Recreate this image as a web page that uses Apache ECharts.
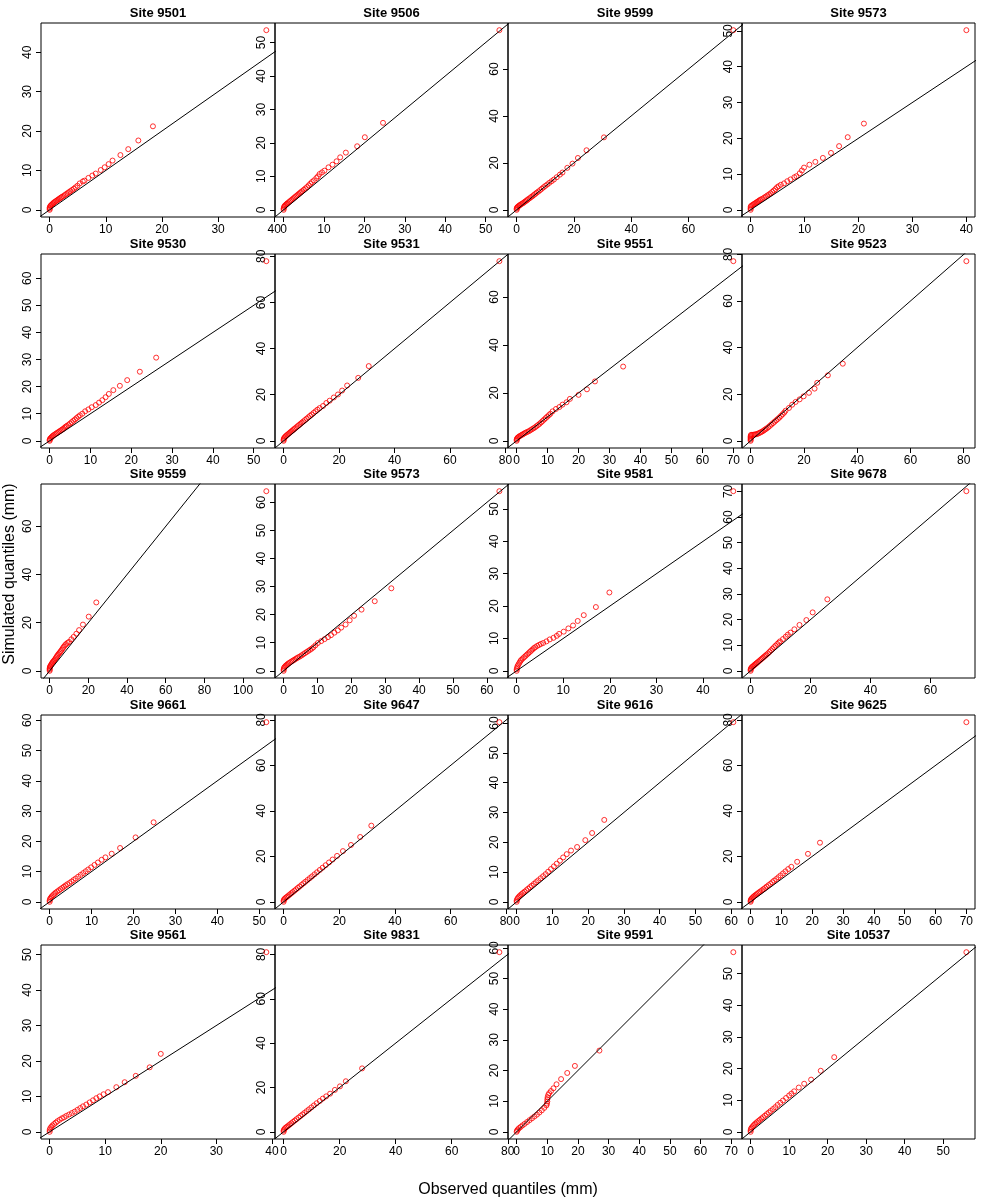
<!DOCTYPE html>
<html>
<head>
<meta charset="utf-8">
<script src="https://cdn.jsdelivr.net/npm/echarts@6/dist/echarts.min.js"></script>
<style>
  html, body { margin: 0; padding: 0; background: #fff; }
  #mychart { width: 981px; height: 1200px; }
</style>
</head>
<body>
<div id="mychart"></div>
<script>
// panel titles, row by row
const siteNames = ["9501", "9506", "9599", "9573", "9530", "9531", "9551", "9523", "9559", "9573",
  "9581", "9678", "9661", "9647", "9616", "9625", "9561", "9831", "9591", "10537"];

// [observed, simulated] quantile pairs (mm), one list per site
const site9501 = [[0,0],[0,0.3],[0,0.6],[0.1,0.9],[0.2,1.1],[0.35,1.3],[0.5,1.5],[0.65,1.7],[0.8,1.9],[1.0,2.1],[1.2,2.3],[1.4,2.5],[1.6,2.7],[1.8,2.9],[2.0,3.1],[2.2,3.3],[2.45,3.5],[2.7,3.75],[2.95,4.0],[3.2,4.25],[3.45,4.5],[3.7,4.75],[4.0,5.05],[4.3,5.35],[4.6,5.7],[4.95,6.1],[5.35,6.7],[5.9,7.2],[6.2,7.4],[6.9,8.1],[7.6,8.7],[8.2,9.2],[9.1,10.1],[9.8,10.8],[10.5,11.6],[11.2,12.5],[12.6,13.9],[14.0,15.4],[15.8,17.6],[18.4,21.2],[38.6,45.6]];
const site9506 = [[0,0],[0,0.4],[0.1,0.8],[0.2,1.1],[0.4,1.3],[0.6,1.6],[0.8,1.8],[1.0,2.0],[1.3,2.3],[1.6,2.6],[1.9,2.9],[2.2,3.2],[2.5,3.5],[2.8,3.8],[3.1,4.1],[3.4,4.4],[3.7,4.7],[4.0,5.0],[4.3,5.3],[4.6,5.6],[5.0,6.0],[5.4,6.4],[5.8,6.8],[6.2,7.3],[6.6,7.8],[7.0,8.3],[7.5,8.8],[8.1,9.5],[8.5,10.0],[8.9,10.7],[9.5,11.2],[10.1,11.7],[11.1,12.7],[12.1,13.5],[13.1,14.5],[14.0,15.7],[15.4,17.1],[18.2,19.0],[20.1,21.7],[24.6,26.0],[53.4,53.7]];
const site9599 = [[0,0],[0,0.5],[0.1,0.9],[0.3,1.2],[0.6,1.5],[0.9,1.8],[1.2,2.1],[1.6,2.4],[2.0,2.7],[2.4,3.0],[2.8,3.4],[3.2,3.7],[3.6,4.1],[4.0,4.5],[4.5,4.9],[5.0,5.4],[5.5,5.8],[6.0,6.3],[6.5,6.8],[7.0,7.3],[7.6,7.8],[8.2,8.4],[8.8,9.0],[9.4,9.6],[10.0,10.2],[10.7,10.8],[11.4,11.5],[12.2,12.2],[13.0,12.9],[14.0,13.9],[15.1,15.0],[16.0,15.9],[17.7,17.9],[19.5,19.7],[21.4,22.1],[24.4,25.4],[30.5,30.9],[75.7,76.6]];
const site9573a = [[0,0],[0,0.4],[0,0.8],[0.1,1.1],[0.3,1.3],[0.5,1.5],[0.7,1.7],[0.9,1.9],[1.1,2.1],[1.3,2.3],[1.5,2.5],[1.7,2.7],[1.9,2.9],[2.2,3.1],[2.5,3.4],[2.8,3.7],[3.1,4.0],[3.4,4.3],[3.7,4.6],[4.0,5.0],[4.3,5.4],[4.6,5.8],[4.9,6.3],[5.2,6.6],[5.6,7.0],[6.2,7.4],[6.8,8.0],[7.4,8.5],[8.1,9.1],[8.5,9.4],[9.1,10.2],[9.5,11.0],[9.9,11.8],[10.9,12.6],[12.0,13.4],[13.4,14.5],[14.9,15.9],[16.4,17.8],[18.0,20.3],[21.0,24.1],[40.0,50.2]];
const site9530 = [[0,0],[0,0.4],[0.1,0.8],[0.3,1.1],[0.5,1.4],[0.7,1.7],[0.9,2.0],[1.2,2.3],[1.5,2.6],[1.8,2.9],[2.1,3.2],[2.4,3.5],[2.7,3.8],[3.0,4.1],[3.3,4.4],[3.6,4.8],[3.9,5.2],[4.2,5.5],[4.6,5.9],[5.0,6.4],[5.4,6.9],[5.8,7.4],[6.2,7.9],[6.6,8.4],[7.0,8.9],[7.4,9.4],[8.0,10.0],[8.7,10.9],[9.5,11.6],[10.3,12.4],[11.3,13.2],[12.1,14.1],[12.9,15.0],[13.7,16.1],[14.5,17.3],[15.6,18.7],[17.2,20.3],[19.0,22.4],[22.1,25.5],[26.1,30.7],[53.1,66.3]];
const site9531 = [[0,0],[0,0.5],[0.1,1.0],[0.3,1.4],[0.6,1.8],[0.9,2.2],[1.3,2.6],[1.7,3.0],[2.1,3.4],[2.5,3.8],[2.9,4.2],[3.3,4.6],[3.7,5.0],[4.1,5.4],[4.6,5.9],[5.1,6.4],[5.6,6.9],[6.1,7.4],[6.6,7.9],[7.1,8.4],[7.7,9.0],[8.3,9.6],[8.9,10.2],[9.5,10.8],[10.1,11.4],[10.8,12.1],[11.5,12.8],[12.2,13.5],[13.0,14.2],[14.2,15.1],[15.4,16.4],[16.6,17.4],[18.1,18.8],[19.6,20.1],[21.1,21.8],[22.9,24.0],[26.9,27.3],[30.7,32.4],[77.8,77.9]];
const site9551 = [[0,0],[0,0.5],[0.1,0.9],[0.3,1.3],[0.6,1.6],[0.9,1.9],[1.3,2.2],[1.7,2.5],[2.1,2.8],[2.5,3.1],[2.9,3.4],[3.4,3.7],[3.9,4.0],[4.4,4.4],[4.9,4.8],[5.4,5.2],[5.9,5.6],[6.4,6.1],[6.9,6.6],[7.4,7.1],[7.9,7.7],[8.4,8.3],[8.9,8.9],[9.4,9.5],[9.9,10.1],[10.4,10.7],[10.9,11.3],[11.6,12.3],[12.7,13.3],[13.8,14.1],[14.8,15.1],[16.1,16.1],[17.2,17.5],[20.0,19.2],[22.7,21.5],[25.3,24.8],[34.4,31.0],[70.0,75.0]];
const site9523 = [[0,0],[0,0.5],[0,1.0],[0,1.5],[0,2.0],[0.1,2.5],[0.5,2.6],[1.0,2.6],[1.5,2.7],[2.0,2.8],[2.5,3.0],[3.0,3.2],[3.5,3.5],[4.0,3.8],[4.5,4.1],[5.0,4.5],[5.5,4.9],[6.0,5.3],[6.6,5.8],[7.2,6.4],[7.8,7.0],[8.4,7.6],[9.0,8.2],[9.6,8.8],[10.2,9.4],[10.8,10.0],[11.4,10.7],[12.0,11.4],[12.6,12.1],[13.1,12.9],[14.4,14.1],[15.6,15.5],[16.9,16.7],[18.4,17.8],[19.9,19.1],[21.9,20.6],[24.0,22.4],[25.0,24.9],[29.0,28.1],[34.6,33.1],[81.0,77.1]];
const site9559 = [[0,0],[0,0.5],[0,1.0],[0.1,1.5],[0.3,1.9],[0.6,2.3],[0.9,2.7],[1.2,3.1],[1.5,3.5],[1.9,3.9],[2.3,4.3],[2.7,4.7],[3.1,5.2],[3.5,5.7],[3.9,6.2],[4.3,6.7],[4.8,7.2],[5.3,7.7],[5.8,8.2],[6.3,8.8],[6.8,9.4],[7.3,10.0],[7.9,10.6],[8.5,11.1],[9.2,11.6],[10.0,12.0],[11.2,13.1],[12.4,14.1],[13.8,15.4],[15.2,16.9],[17.2,19.2],[20.2,22.5],[24.1,28.4],[112.0,74.6]];
const site9573b = [[0,0],[0,0.5],[0.1,1.0],[0.3,1.4],[0.6,1.8],[0.9,2.1],[1.2,2.4],[1.5,2.7],[1.9,3.0],[2.3,3.3],[2.7,3.6],[3.1,3.9],[3.5,4.2],[3.9,4.5],[4.3,4.8],[4.8,5.1],[5.3,5.5],[5.8,5.9],[6.3,6.3],[6.8,6.7],[7.3,7.1],[7.8,7.5],[8.3,7.9],[8.8,8.4],[9.4,9.1],[10.1,9.9],[11.1,10.6],[12.1,11.3],[13.1,12.0],[14.0,12.7],[15.0,13.6],[16.0,14.4],[17.0,15.4],[18.3,16.5],[19.5,18.0],[20.8,19.6],[23.0,21.8],[26.9,24.8],[31.8,29.4],[63.7,64.0]];
const site9581 = [[0,0],[0,0.5],[0.1,1.0],[0.2,1.5],[0.4,2.0],[0.6,2.5],[0.8,3.0],[1.0,3.4],[1.3,3.8],[1.6,4.2],[1.9,4.6],[2.2,5.0],[2.5,5.4],[2.8,5.8],[3.1,6.2],[3.4,6.6],[3.7,7.0],[4.0,7.3],[4.4,7.7],[4.8,8.0],[5.2,8.3],[5.7,8.6],[6.4,9.1],[7.1,9.7],[7.9,10.2],[8.6,10.8],[9.1,11.4],[10.1,12.1],[11.1,13.1],[12.1,14.0],[13.1,15.4],[14.4,17.2],[17.0,19.7],[19.9,24.2],[46.5,55.5]];
const site9678 = [[0,0],[0,0.5],[0.1,0.9],[0.3,1.3],[0.6,1.6],[0.9,1.9],[1.2,2.2],[1.5,2.5],[1.8,2.8],[2.1,3.1],[2.5,3.5],[2.9,3.9],[3.3,4.3],[3.7,4.7],[4.1,5.1],[4.5,5.5],[4.9,5.9],[5.3,6.3],[5.8,6.8],[6.3,7.4],[6.8,8.0],[7.3,8.6],[7.8,9.2],[8.3,9.8],[8.9,10.5],[9.4,11.0],[9.8,11.5],[10.8,12.4],[11.7,13.3],[12.4,14.1],[13.3,14.9],[14.6,16.2],[16.3,17.9],[18.6,19.8],[20.7,22.8],[25.6,27.9],[72.0,70.1]];
const site9661 = [[0,0],[0,0.5],[0.1,1.0],[0.3,1.4],[0.5,1.8],[0.8,2.2],[1.1,2.6],[1.4,3.0],[1.8,3.4],[2.2,3.8],[2.6,4.2],[3.0,4.6],[3.4,5.0],[3.8,5.4],[4.2,5.8],[4.7,6.2],[5.2,6.7],[5.7,7.2],[6.2,7.7],[6.8,8.3],[7.4,8.9],[8.0,9.5],[8.6,10.1],[9.2,10.7],[9.9,11.4],[10.7,12.2],[11.5,13.0],[12.4,13.9],[13.3,14.7],[14.8,15.9],[16.8,17.8],[20.5,21.3],[24.8,26.3],[51.7,59.4]];
const site9647 = [[0,0],[0,0.6],[0.2,1.1],[0.5,1.5],[0.9,1.9],[1.3,2.3],[1.8,2.8],[2.3,3.3],[2.8,3.8],[3.3,4.3],[3.9,4.9],[4.5,5.5],[5.1,6.1],[5.7,6.7],[6.4,7.4],[7.1,8.1],[7.8,8.8],[8.6,9.6],[9.4,10.4],[10.2,11.2],[11.1,12.1],[12.0,13.0],[13.0,14.0],[14.0,15.0],[15.1,16.1],[16.3,17.3],[17.6,18.6],[19.2,20.2],[21.3,22.3],[24.2,25.0],[27.5,28.5],[31.5,33.5],[77.5,79.0]];
const site9616 = [[0,0],[0,0.5],[0.2,1.0],[0.4,1.4],[0.7,1.8],[1.0,2.2],[1.4,2.6],[1.8,3.0],[2.2,3.4],[2.7,3.9],[3.2,4.4],[3.7,4.9],[4.2,5.4],[4.8,6.0],[5.4,6.6],[6.0,7.2],[6.7,7.9],[7.4,8.6],[8.1,9.3],[8.8,10.1],[9.6,11.0],[10.4,11.9],[11.2,12.8],[12.1,13.8],[13.0,14.9],[14.0,16.0],[15.2,17.2],[16.9,18.4],[19.2,20.7],[21.1,23.1],[24.5,27.5],[60.6,60.3]];
const site9625 = [[0,0],[0,0.5],[0.1,1.0],[0.3,1.4],[0.6,1.8],[0.9,2.2],[1.2,2.6],[1.6,3.0],[2.0,3.4],[2.4,3.8],[2.8,4.2],[3.2,4.6],[3.7,5.1],[4.2,5.6],[4.7,6.1],[5.2,6.7],[5.8,7.3],[6.4,7.9],[7.0,8.6],[7.6,9.3],[8.3,10.0],[9.0,10.8],[9.7,11.6],[10.5,12.5],[11.3,13.4],[12.2,14.4],[13.2,15.4],[15.1,17.6],[18.6,21.1],[22.5,26.0],[70.0,79.0]];
const site9561 = [[0,0],[0,0.5],[0.1,1.0],[0.3,1.4],[0.5,1.8],[0.8,2.2],[1.1,2.6],[1.4,3.0],[1.8,3.4],[2.2,3.8],[2.6,4.1],[3.0,4.5],[3.5,4.9],[4.0,5.3],[4.5,5.7],[5.0,6.2],[5.5,6.7],[6.0,7.2],[6.6,7.7],[7.2,8.3],[7.8,8.9],[8.4,9.5],[9.0,10.0],[9.7,10.6],[10.5,11.2],[12.0,12.6],[13.5,14.0],[15.5,15.8],[18.0,18.2],[20.0,22.0],[39.0,50.7]];
const site9831 = [[0,0],[0,0.6],[0.2,1.1],[0.5,1.6],[0.9,2.0],[1.3,2.4],[1.8,2.9],[2.3,3.4],[2.8,3.9],[3.4,4.5],[4.0,5.1],[4.6,5.7],[5.3,6.4],[6.0,7.1],[6.7,7.8],[7.4,8.5],[8.2,9.3],[9.0,10.1],[9.9,11.0],[10.8,11.9],[11.8,12.9],[12.9,13.9],[14.0,15.0],[15.2,16.0],[16.6,17.2],[18.3,18.9],[20.1,20.5],[22.2,22.8],[28.0,28.6],[77.0,81.0]];
const site9591 = [[0,0],[0.1,0.4],[0.4,0.8],[0.8,1.2],[1.3,1.6],[1.9,2.1],[2.6,2.6],[3.4,3.2],[4.2,3.8],[5.0,4.4],[5.8,5.0],[6.6,5.6],[7.4,6.3],[8.2,7.0],[9.0,7.8],[9.7,8.6],[9.9,9.2],[10.0,9.9],[10.0,10.6],[10.1,11.3],[10.3,12.0],[10.6,12.6],[11.2,13.3],[12.0,14.2],[13.0,15.5],[14.5,17.2],[16.5,19.2],[19.0,21.5],[27.0,26.5],[70.7,58.6]];
const site10537 = [[0,0],[0,0.5],[0.1,1.0],[0.3,1.4],[0.6,1.8],[0.9,2.2],[1.2,2.6],[1.6,3.0],[2.0,3.4],[2.4,3.8],[2.8,4.2],[3.2,4.6],[3.7,5.1],[4.2,5.6],[4.7,6.1],[5.2,6.6],[5.8,7.2],[6.4,7.8],[7.0,8.5],[7.7,9.2],[8.4,9.9],[9.2,10.7],[10.0,11.5],[10.6,12.1],[11.3,12.8],[12.5,14.0],[13.9,15.2],[15.7,16.5],[18.2,19.3],[21.7,23.6],[56.0,56.8]];

const sitePoints = [site9501, site9506, site9599, site9573a, site9530, site9531, site9551, site9523,
  site9559, site9573b, site9581, site9678, site9661, site9647, site9616, site9625,
  site9561, site9831, site9591, site10537];

// spacing of the labelled ticks on each panel's axes
const xTickStep = [10, 10, 20, 10, 10, 20, 10, 20, 20, 10, 10, 20, 10, 20, 10, 10, 10, 20, 10, 10];
const yTickStep = [10, 10, 20, 10, 10, 20, 20, 20, 20, 10, 10, 10, 10, 20, 10, 20, 10, 20, 10, 10];

const fontFamily = '"Liberation Sans", Arial, Helvetica, sans-serif';

// panel frame (plot box) positions
const colLeft = [41, 275, 508, 742, 975];
const rowTop = [23, 254, 484, 715, 945];
const boxHeight = 194;

// R style axis range: data range stretched 4% on each side
function padRange(vals) {
    const lo = Math.min(...vals), hi = Math.max(...vals);
    const pad = (hi - lo) * 0.04;
    return [lo - pad, hi + pad];
}
function tickValues(range, step) {
    const out = [];
    for (let k = Math.ceil(range[0] / step); k * step <= range[1]; k++) out.push(k * step);
    return out;
}

const grids = [], xAxes = [], yAxes = [], series = [], titles = [];

sitePoints.forEach(function (pts, i) {
    const r = Math.floor(i / 4), c = i % 4;
    const xr = padRange(pts.map(p => p[0]));
    const yr = padRange(pts.map(p => p[1]));
    const xt = tickValues(xr, xTickStep[i]);
    const yt = tickValues(yr, yTickStep[i]);
    const left = colLeft[c], width = colLeft[c + 1] - colLeft[c];

    grids.push({
        left: left, top: rowTop[r], width: width, height: boxHeight,
        show: true, borderColor: "#000", borderWidth: 1, backgroundColor: "transparent"
    });
    titles.push({
        text: "Site " + siteNames[i],
        left: left + width / 2, top: rowTop[r] - 16, textAlign: "center", padding: 0,
        textStyle: { fontSize: 13, fontWeight: "bold", color: "#000", fontFamily: fontFamily }
    });
    const axisCommon = {
        type: "value", gridIndex: i,
        axisLine: { show: false, onZero: false },
        splitLine: { show: false },
    };
    xAxes.push(Object.assign({}, axisCommon, {
        min: xr[0], max: xr[1],
        axisTick: { show: true, inside: false, length: 5, customValues: xt, lineStyle: { color: "#000" } },
        axisLabel: { customValues: xt, fontSize: 12, color: "#000", margin: 7, fontFamily: fontFamily }
    }));
    yAxes.push(Object.assign({}, axisCommon, {
        min: yr[0], max: yr[1],
        axisTick: { show: true, inside: false, length: 5, customValues: yt, lineStyle: { color: "#000" } },
        axisLabel: { customValues: yt, fontSize: 12, color: "#000", margin: 7, rotate: 90, fontFamily: fontFamily }
    }));

    series.push({
        type: "scatter", xAxisIndex: i, yAxisIndex: i, data: pts,
        symbol: "circle", symbolSize: 5, silent: true, z: 2,
        itemStyle: { color: "rgba(0,0,0,0)", borderColor: "#ff0000", borderWidth: 1 }
    });
    // 1:1 reference line across the whole panel
    const lo = Math.min(xr[0], yr[0]), hi = Math.max(xr[1], yr[1]);
    series.push({
        type: "line", xAxisIndex: i, yAxisIndex: i, data: [[lo, lo], [hi, hi]],
        symbol: "none", clip: true, silent: true, z: 3,
        lineStyle: { color: "#000", width: 1 }
    });
});

const chart = echarts.init(document.getElementById("mychart"));
chart.setOption({
    animation: false,
    backgroundColor: "#fff",
    title: titles,
    grid: grids,
    xAxis: xAxes,
    yAxis: yAxes,
    series: series,
    graphic: [
        {
            type: "text", x: 10, y: 574, rotation: Math.PI / 2,
            style: { text: "Simulated quantiles (mm)", fontSize: 16, fill: "#000", fontFamily: fontFamily,
                     textAlign: "center", textVerticalAlign: "middle" }
        },
        {
            type: "text", x: 508, y: 1190,
            style: { text: "Observed quantiles (mm)", fontSize: 16, fill: "#000", fontFamily: fontFamily,
                     textAlign: "center", textVerticalAlign: "middle" }
        }
    ]
});
</script>
</body>
</html>
